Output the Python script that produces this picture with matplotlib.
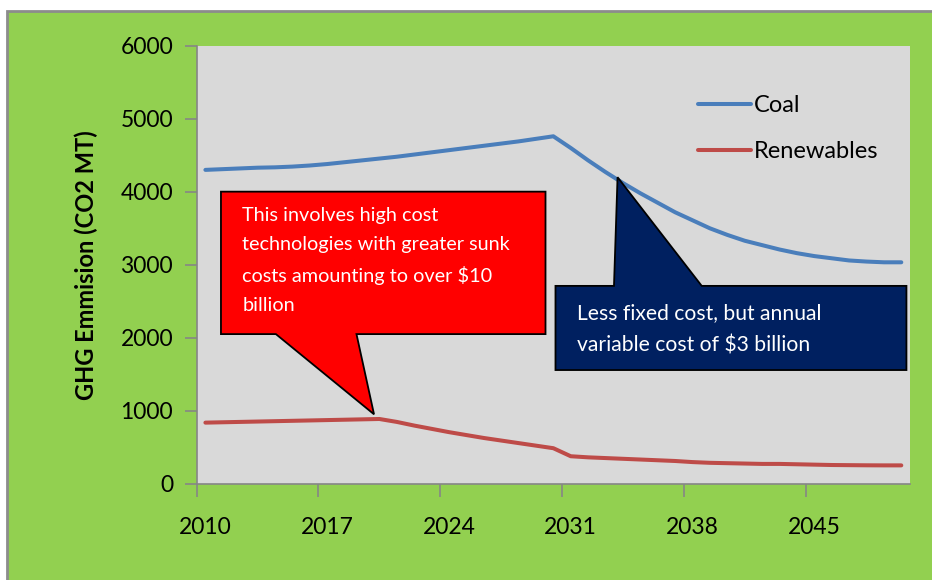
import matplotlib.pyplot as plt
from matplotlib.patches import Polygon, Rectangle

plt.rcParams['font.family'] = ['Lato', 'DejaVu Sans']

# ==========================================
# data
# ==========================================
years = list(range(2010, 2051))

coal = [4300, 4310, 4320, 4330, 4335, 4345, 4360, 4380, 4405, 4430,
        4455, 4480, 4510, 4540, 4570, 4600, 4630, 4660, 4690, 4725,
        4760, 4600, 4430, 4270, 4120, 3980, 3850, 3720, 3610, 3500,
        3410, 3330, 3270, 3210, 3160, 3120, 3090, 3060, 3045, 3035,
        3035]

renewables = [840, 845, 850, 855, 860, 865, 870, 875, 880, 885,
              890, 850, 800, 755, 710, 670, 630, 595, 560, 525,
              490, 380, 365, 355, 345, 335, 325, 315, 300, 290,
              285, 280, 275, 275, 270, 265, 260, 258, 256, 255,
              255]

tick_years = [2010, 2017, 2024, 2031, 2038, 2045]
y_ticks = [0, 1000, 2000, 3000, 4000, 5000, 6000]

red_note = ("This involves high cost\ntechnologies with greater sunk\n"
            "costs amounting to over $10\nbillion")
blue_note = "Less fixed cost, but annual\nvariable cost of $3 billion"

GREEN = '#92D050'
PLOT_BG = '#D9D9D9'
AXIS_GRAY = '#868686'

fig = plt.figure(figsize=(9.32, 5.80), dpi=100, facecolor='white')
# green chart area with the grey frame on top / left
fig.patches.append(Rectangle((7 / 932, -0.05), 1.1, 1 - 11 / 580 + 0.05,
                             transform=fig.transFigure, facecolor=GREEN,
                             edgecolor='#8C8C8C', linewidth=2, zorder=-10))

ax = fig.add_axes([196.7 / 932, 96 / 580, 713.3 / 932, 438.3 / 580])
ax.set_facecolor(PLOT_BG)

ax.plot(years, coal, color='#4A7EBB', linewidth=2.9, solid_capstyle='round',
        label='Coal', zorder=3)
ax.plot(years, renewables, color='#BE4B48', linewidth=2.9, solid_capstyle='round',
        label='Renewables', zorder=3)

# category style axis: tick marks between categories, labels on them
ax.set_xlim(years[0] - 0.5, years[-1] + 0.5)
ax.set_ylim(0, 6000)
ax.set_xticks([y - 0.5 for y in tick_years])
ax.set_xticklabels([])
ax.set_xticks(tick_years, minor=True)
ax.set_xticklabels([str(y) for y in tick_years], minor=True)
ax.tick_params(axis='x', which='major', direction='out', length=9, width=1.2,
               color=AXIS_GRAY)
ax.tick_params(axis='x', which='minor', length=0, pad=24, labelsize=16.5)
ax.set_yticks(y_ticks)
ax.tick_params(axis='y', direction='out', length=9, width=1.2, color=AXIS_GRAY,
               pad=8, labelsize=16.5)

for side in ['top', 'right']:
    ax.spines[side].set_visible(False)
for side in ['left', 'bottom']:
    ax.spines[side].set_color(AXIS_GRAY)
    ax.spines[side].set_linewidth(1.2)

ax.set_ylabel('GHG Emmision (CO2 MT)', fontsize=17, fontweight='bold', labelpad=16)

ax.legend(loc='upper left', bbox_to_anchor=(0.673, 0.935), frameon=False,
          fontsize=17, handlelength=2.25, handletextpad=0.1, labelspacing=1.05)

# callouts (axes fraction coordinates)
red_shape = [(0.034, 0.667), (0.489, 0.667), (0.489, 0.342), (0.224, 0.342),
             (0.2486, 0.159), (0.111, 0.342), (0.034, 0.342)]
ax.add_patch(Polygon(red_shape, closed=True, transform=ax.transAxes,
                     facecolor='#FF0000', edgecolor='black', linewidth=1.3,
                     zorder=5))
ax.text(0.064, 0.632, red_note, transform=ax.transAxes, color='white',
        fontsize=14.3, va='top', ha='left', linespacing=1.83, zorder=6)

blue_shape = [(0.503, 0.452), (0.585, 0.452), (0.590, 0.700), (0.708, 0.452),
              (0.995, 0.452), (0.995, 0.260), (0.503, 0.260)]
ax.add_patch(Polygon(blue_shape, closed=True, transform=ax.transAxes,
                     facecolor='#002060', edgecolor='black', linewidth=1.3,
                     zorder=5))
ax.text(0.533, 0.412, blue_note, transform=ax.transAxes, color='white',
        fontsize=15.2, va='top', ha='left', linespacing=1.78, zorder=6)

plt.savefig('out.png', dpi=100, facecolor=fig.get_facecolor())
